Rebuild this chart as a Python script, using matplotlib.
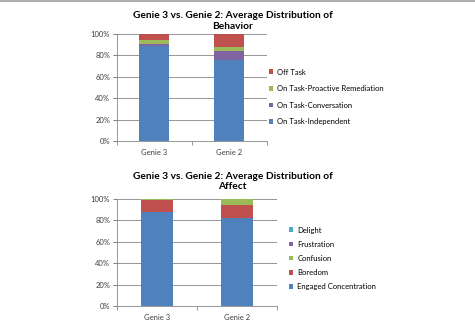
import numpy as np
import matplotlib
matplotlib.use("Agg")
import matplotlib.pyplot as plt
from matplotlib.ticker import PercentFormatter

plt.rcParams['font.family'] = ['Lato', 'DejaVu Sans']

groups = ["Genie 3", "Genie 2"]

# behavior (percent)
beh_names = ["On Task-Independent", "On Task-Conversation",
             "On Task-Proactive Remediation", "Off Task"]
beh_vals = [[89.0, 76.0],
            [1.9, 7.8],
            [3.7, 4.2],
            [5.4, 12.0]]

# affect (percent)
aff_names = ["Engaged Concentration", "Boredom", "Confusion",
             "Frustration", "Delight"]
aff_vals = [[87.5, 82.5],
            [11.5, 12.3],
            [1.0, 5.2],
            [0.0, 0.0],
            [0.0, 0.0]]

beh_cols = ["#4F81BD", "#8064A2", "#9BBB59", "#C0504D"]
aff_cols = ["#4F81BD", "#C0504D", "#9BBB59", "#8064A2", "#4BACC6"]

fig = plt.figure(figsize=(4.75, 3.25), dpi=100)


def draw(ax, names, vals, cols, title, title_y, leg_x, leg_y, leg_space):
    x = np.arange(len(groups))
    bottom = np.zeros(len(groups))
    handles = []
    for n, v, c in zip(names, vals, cols):
        h = ax.bar(x, v, 0.4, bottom=bottom, color=c, label=n, zorder=3)
        handles.append(h)
        bottom += np.array(v)
    ax.set_xlim(-0.5, len(groups) - 0.5)
    ax.set_ylim(0, 100)
    ax.set_yticks(range(0, 101, 20))
    ax.yaxis.set_major_formatter(PercentFormatter(decimals=0))
    ax.set_xticks(x)
    ax.set_xticklabels(groups)
    ax.set_xticks([-0.5, 0.5, 1.5], minor=True)
    ax.tick_params(axis='x', which='major', length=0, pad=6, labelsize=5.5, labelcolor="#404040")
    ax.tick_params(axis='x', which='minor', length=3, color="#868686", direction="out")
    ax.tick_params(axis='y', length=3, color="#868686", labelsize=5.5, labelcolor="#404040", pad=2)
    ax.grid(axis='y', color="#868686", linewidth=0.6, zorder=0)
    for s in ["top", "right"]:
        ax.spines[s].set_visible(False)
    ax.spines["left"].set_color("#868686")
    ax.spines["bottom"].set_color("#868686")
    ax.spines["left"].set_linewidth(0.6)
    ax.spines["bottom"].set_linewidth(0.6)
    fig.text(0.49, title_y, title, ha="center", va="center", fontsize=7.3,
             fontweight="bold", linespacing=1.2)
    fig.legend(handles[::-1], names[::-1], loc="upper left",
               bbox_to_anchor=(leg_x, leg_y), frameon=False, fontsize=5.5,
               handlelength=0.6, handleheight=0.6, handletextpad=0.5,
               labelspacing=leg_space, borderaxespad=0, borderpad=0)


ax1 = fig.add_axes([0.2463, 0.5662, 0.3158, 0.3292])
draw(ax1, beh_names, beh_vals, beh_cols,
     "Genie 3 vs. Genie 2: Average Distribution of\nBehavior", 0.935,
     0.566, 0.789, 1.25)

ax2 = fig.add_axes([0.2463, 0.0585, 0.3368, 0.3292])
draw(ax2, aff_names, aff_vals, aff_cols,
     "Genie 3 vs. Genie 2: Average Distribution of\nAffect", 0.4415,
     0.608, 0.303, 0.93)

fig.add_artist(plt.Line2D([0, 1], [0.998, 0.998], color="#a0a0a0", linewidth=1.2))

fig.savefig("out.png", dpi=100)
